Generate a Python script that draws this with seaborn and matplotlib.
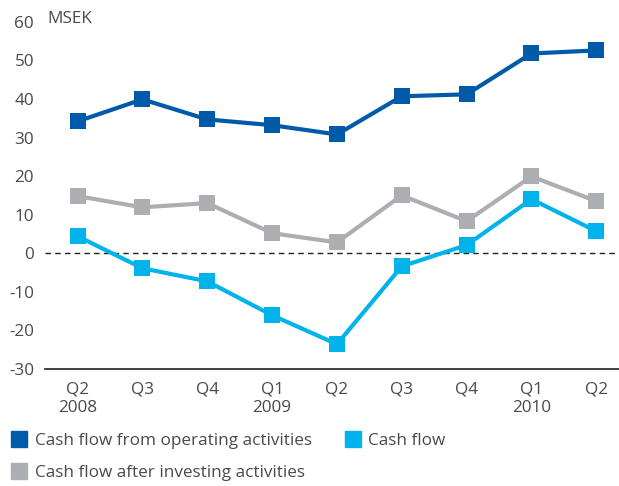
import pandas as pd
import matplotlib
matplotlib.use("Agg")
import matplotlib.pyplot as plt
import seaborn as sns

# Data
quarters = ["Q2\n2008", "Q3", "Q4", "Q1\n2009", "Q2", "Q3", "Q4", "Q1\n2010", "Q2"]
operating = [34.2, 39.9, 34.7, 33.2, 30.8, 40.7, 41.2, 51.8, 52.6]
after_investing = [14.8, 11.9, 13.0, 5.2, 2.8, 15.0, 8.3, 19.9, 13.5]
cash_flow = [4.4, -3.9, -7.3, -16.1, -23.6, -3.4, 2.1, 14.0, 5.7]
series_names = ["Cash flow from operating activities", "Cash flow after investing activities", "Cash flow"]
colors = ["#005AAA", "#ADAEB2", "#00B4EB"]

df = pd.DataFrame({
    "pos": list(range(len(quarters))) * 3,
    "value": operating + after_investing + cash_flow,
    "series": [s for s in series_names for _ in quarters],
})

sns.set_style("white")
plt.rcParams["font.family"] = ["Open Sans", "DejaVu Sans"]
plt.rcParams["axes.unicode_minus"] = False
text_color = "#4a4a4a"
fs = 12.3

fig = plt.figure(figsize=(6.19, 4.86), dpi=100)
ax = fig.add_axes([0.073, 0.241, 0.927, 0.714])

ax.axhline(0, color="#222222", lw=1, ls=(0, (4, 3)), zorder=1)
sns.lineplot(data=df, x="pos", y="value", hue="series", style="series",
             palette=dict(zip(series_names, colors)), markers=["s", "s", "s"],
             dashes=False, lw=3, markersize=12, markeredgewidth=0,
             hue_order=[series_names[1], series_names[2], series_names[0]],
             legend=False, ax=ax, zorder=3)

ax.set_xlim(-0.5, 8.35)
ax.set_ylim(-30, 60)
ax.set_yticks(range(-30, 61, 10))
ax.set_xticks(range(len(quarters)))
ax.set_xticklabels(quarters, color=text_color, fontsize=fs, linespacing=1.25)
ax.tick_params(axis="y", labelsize=fs, labelcolor=text_color, length=0, pad=8)
ax.tick_params(axis="x", length=0, pad=9)
ax.set_xlabel("")
ax.set_ylabel("")
for side in ["top", "right", "left"]:
    ax.spines[side].set_visible(False)
ax.spines["bottom"].set_color("#222222")
ax.spines["bottom"].set_linewidth(1.2)

fig.text(0.077, 0.96, "MSEK", color=text_color, fontsize=fs, va="center")

handles = [plt.Line2D([], [], marker="s", ls="", color=c, markersize=12) for c in colors]
fig.legend(handles, series_names, loc="lower left", bbox_to_anchor=(-0.01, -0.022), ncol=2,
           frameon=False, fontsize=fs, handletextpad=0.3, columnspacing=1.8,
           labelspacing=0.95, handlelength=1.2, labelcolor=text_color)

fig.savefig("out.png", dpi=100)
